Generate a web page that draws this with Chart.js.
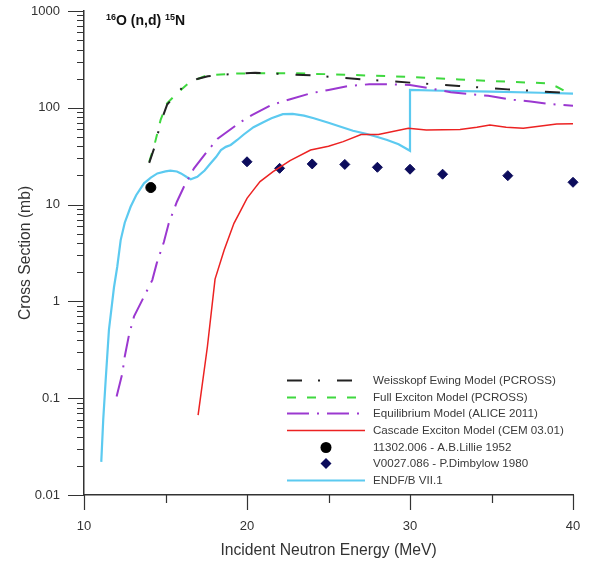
<!DOCTYPE html>
<html>
<head>
<meta charset="utf-8">
<script src="https://cdn.jsdelivr.net/npm/chart.js@4.4.1/dist/chart.umd.min.js"></script>
<style>
  html, body { margin: 0; padding: 0; background: #fff; }
  #wrap { width: 591px; height: 562px; position: relative; }
</style>
</head>
<body>
<div id="wrap"><canvas id="chart"></canvas></div>
<script>
// ticks
const xTicks = [10, 20, 30, 40];
const xTickLabels = ['10', '20', '30', '40'];
const xMinor = [15, 25, 35];
const yTicks = [0.01, 0.1, 1, 10, 100, 1000];
const yTickLabels = ['0.01', '0.1', '1', '10', '100', '1000'];

// Weisskopf Ewing Model (PCROSS)
const weX = [14, 14.3, 14.7, 15.1, 15.5, 16, 16.5, 17, 17.6, 18.5, 19.5, 20.5, 21.5, 23, 24, 27, 30, 33, 36, 39.4, 40];
const weY = [27, 38, 70, 108, 128, 160, 185, 200, 212, 220, 225, 230, 226, 220, 216, 197, 182, 168, 155, 143, 140];

// Full Exciton Model (PCROSS)
const feX = [14, 14.3, 14.7, 15.1, 15.7, 16.5, 17.5, 19, 20.5, 23, 26, 30, 33, 36, 38.4, 39, 40];
const feY = [27.7, 40, 75, 111, 141, 185, 215, 225, 228, 227, 220, 208, 196, 186, 179, 165, 135];

// Equilibrium Model (ALICE 2011)
const eqX = [12, 12.35, 12.5, 12.76, 13.07, 13.68, 14.19, 14.46, 14.9, 15.2, 15.7, 16.13, 16.75, 17.5, 18.2, 19.6, 20.3, 21.5, 22.6, 23.9, 25, 26.2, 27.5, 28.7, 30, 31.2, 32.5, 33.7, 34.8, 36.1, 37.4, 38.7, 40];
const eqY = [0.104, 0.18, 0.27, 0.45, 0.7, 1.12, 1.66, 2.47, 4.1, 6.4, 10.7, 15.3, 23.7, 34.4, 48, 71, 84, 107, 122, 141, 153, 168, 175, 175, 172, 159, 145, 138, 133, 122, 116, 109, 105];

// Cascade Exciton Model (CEM 03.01)
const ceX = [17.0, 17.57, 18.04, 18.6, 19.2, 19.57, 20.0, 20.4, 20.8, 21.6, 22.64, 23.9, 25.0, 25.9, 27.0, 28.06, 29.9, 31.0, 33.07, 34.1, 34.9, 35.9, 36.95, 39.0, 40];
const ceY = [0.067, 0.34, 1.7, 3.4, 6.4, 8.4, 11.6, 14.2, 17.3, 21.9, 28.5, 36.6, 40, 44.7, 53, 53, 61.4, 59, 59.6, 62.9, 66.5, 63, 61.4, 68, 68.5];

// 11302.006 - A.B.Lillie 1952
const lilX = [14.1];
const lilY = [15];

// V0027.086 - P.Dimbylow 1980
const dimX = [20, 22, 24, 26, 28, 30, 32, 36, 40];
const dimY = [27.7, 23.7, 26.3, 26, 24.3, 23.2, 20.6, 19.9, 17.0];

// ENDF/B VII.1
const enX = [11.06, 11.18, 11.33, 11.53, 11.84, 12.04, 12.25, 12.5, 12.86, 13.2, 13.68, 14.1, 14.5, 15.0, 15.3, 15.7, 15.95, 16.3, 16.55, 16.95, 17.4, 17.77, 18.1, 18.4, 18.7, 19.0, 19.4, 19.8, 20.4, 21.0, 21.5, 22.2, 22.8, 23.5, 24.1, 25, 25.7, 26.5, 27.3, 28, 28.6, 29.3, 30, 30, 32, 35, 38, 40];
const enY = [0.022, 0.06, 0.154, 0.507, 1.4, 2.28, 4.3, 6.5, 9.5, 12.5, 16.6, 19, 21, 22, 22.4, 22, 21, 19.3, 18.3, 19.4, 22.5, 26.7, 31, 36.6, 39.5, 41.3, 46.5, 53, 63, 71, 78, 86, 86.5, 83, 78, 70, 64, 58, 54, 50, 46.5, 42, 36, 153, 150, 147, 143, 140];

const titleParts = [['16', true], ['O (n,d) ', false], ['15', true], ['N', false]];

const FONT = '"Liberation Sans", Arial, sans-serif';
Chart.defaults.font.family = FONT;
Chart.defaults.color = '#333';

function pts(xs, ys) {
  return xs.map((x, i) => ({ x: x, y: ys[i] }));
}

function lineSet(label, xs, ys, color, width, dash) {
  return {
    label: label,
    data: pts(xs, ys),
    showLine: true,
    borderColor: color,
    backgroundColor: color,
    borderWidth: width,
    borderDash: dash,
    pointRadius: 0,
    tension: 0,
    fill: false
  };
}

function markSet(label, xs, ys, color, style) {
  return {
    label: label,
    data: pts(xs, ys),
    showLine: false,
    pointStyle: style,
    pointRadius: 5,
    backgroundColor: color,
    borderColor: color,
    borderWidth: 1,
    clip: 10
  };
}

// tick marks: long at decades, short in between
const axisTicks = {
  id: 'axisTicks',
  afterDraw(chart) {
    const { ctx, chartArea: a } = chart;
    const x = chart.scales.x, y = chart.scales.y;
    ctx.save();
    ctx.strokeStyle = '#333';
    ctx.lineWidth = 1.2;
    ctx.beginPath();
    yTicks.forEach(v => {
      const p = Math.round(y.getPixelForValue(v)) + 0.5;
      ctx.moveTo(a.left - 16, p); ctx.lineTo(a.left, p);
    });
    for (let k = -2; k < 3; k++) {
      for (let m = 2; m <= 9; m++) {
        const p = Math.round(y.getPixelForValue(m * Math.pow(10, k))) + 0.5;
        ctx.moveTo(a.left - 7, p); ctx.lineTo(a.left, p);
      }
    }
    xTicks.forEach(v => {
      const p = Math.round(x.getPixelForValue(v)) + 0.5;
      ctx.moveTo(p, a.bottom); ctx.lineTo(p, a.bottom + 15);
    });
    xMinor.forEach(v => {
      const p = Math.round(x.getPixelForValue(v)) + 0.5;
      ctx.moveTo(p, a.bottom); ctx.lineTo(p, a.bottom + 8);
    });
    ctx.stroke();
    ctx.restore();
  }
};

// legend drawn inside the plot, bottom right
const insideLegend = {
  id: 'insideLegend',
  afterDraw(chart) {
    const { ctx, chartArea: a } = chart;
    const x0 = a.left + 203, x1 = a.left + 281, tx = a.left + 289;
    chart.data.datasets.forEach((d, i) => {
      const yy = Math.round(a.top + 369 + i * 16.67) + 0.5;
      ctx.save();
      if (d.showLine) {
        ctx.strokeStyle = d.borderColor;
        ctx.lineWidth = d.borderWidth;
        ctx.setLineDash(d.borderDash || []);
        ctx.beginPath();
        ctx.moveTo(x0, yy); ctx.lineTo(x1, yy);
        ctx.stroke();
      } else {
        const cx = (x0 + x1) / 2, r = 5.5;
        ctx.fillStyle = d.backgroundColor;
        ctx.beginPath();
        if (d.pointStyle === 'circle') {
          ctx.arc(cx, yy, r, 0, Math.PI * 2);
        } else {
          ctx.moveTo(cx, yy - r); ctx.lineTo(cx + r, yy); ctx.lineTo(cx, yy + r); ctx.lineTo(cx - r, yy);
          ctx.closePath();
        }
        ctx.fill();
      }
      ctx.setLineDash([]);
      ctx.fillStyle = '#3a3a3a';
      ctx.font = '11.6px ' + FONT;
      ctx.textBaseline = 'middle';
      ctx.fillText(d.label, tx, yy);
      ctx.restore();
    });
  }
};

// reaction label with superscripts
const reactionTitle = {
  id: 'reactionTitle',
  afterDraw(chart) {
    const { ctx, chartArea: a } = chart;
    let x = a.left + 22;
    const base = a.top + 14;
    ctx.save();
    ctx.fillStyle = '#111';
    ctx.textBaseline = 'alphabetic';
    titleParts.forEach(([t, sup]) => {
      ctx.font = sup ? 'bold 9px ' + FONT : 'bold 14px ' + FONT;
      ctx.fillText(t, x, sup ? base - 5 : base);
      x += ctx.measureText(t).width;
    });
    ctx.restore();
  }
};

new Chart(document.getElementById('chart'), {
  type: 'scatter',
  data: {
    datasets: [
      lineSet('Weisskopf Ewing Model (PCROSS)', weX, weY, '#222222', 2, [15, 16, 2, 17]),
      lineSet('Full Exciton Model (PCROSS)', feX, feY, '#3fd83f', 2, [9, 11]),
      lineSet('Equilibrium Model (ALICE 2011)', eqX, eqY, '#9b38d0', 2, [22, 8, 2, 8]),
      lineSet('Cascade Exciton Model (CEM 03.01)', ceX, ceY, '#ec2222', 1.5, []),
      markSet('11302.006 - A.B.Lillie 1952', lilX, lilY, '#000000', 'circle'),
      markSet('V0027.086 - P.Dimbylow 1980', dimX, dimY, '#0c0c5c', 'rectRot'),
      lineSet('ENDF/B VII.1', enX, enY, '#5ccaf0', 2.2, [])
    ]
  },
  options: {
    animation: false,
    responsive: true,
    maintainAspectRatio: false,
    layout: { padding: { left: 0, right: 18, top: 11, bottom: 0 } },
    plugins: {
      legend: { display: false },
      tooltip: { enabled: false }
    },
    scales: {
      x: {
        type: 'linear',
        min: 10,
        max: 40,
        afterBuildTicks: s => { s.ticks = xTicks.map(v => ({ value: v })); },
        ticks: { padding: 24, color: '#333', font: { size: 13 }, callback: (v, i) => xTickLabels[i] },
        grid: { display: false, drawTicks: false },
        border: { display: true, color: '#333', width: 1.5 },
        title: { display: true, text: 'Incident Neutron Energy (MeV)', color: '#333', font: { size: 15.7 }, padding: { top: 0, bottom: 2 } },
        afterFit: s => { s.height = 67; s.paddingLeft = 0; s.paddingRight = 0; }
      },
      y: {
        type: 'logarithmic',
        min: 0.01,
        max: 1000,
        afterBuildTicks: s => { s.ticks = yTicks.map(v => ({ value: v })); },
        ticks: { padding: 24, color: '#333', font: { size: 13 }, callback: (v, i) => yTickLabels[i] },
        grid: { display: false, drawTicks: false },
        border: { display: true, color: '#333', width: 1.5 },
        title: { display: true, text: 'Cross Section (mb)', color: '#333', font: { size: 15.7 }, padding: { top: 16, bottom: 0 } },
        afterFit: s => { s.width = 84; s.paddingTop = 0; s.paddingBottom = 0; }
      }
    }
  },
  plugins: [axisTicks, insideLegend, reactionTitle]
});
</script>
</body>
</html>
